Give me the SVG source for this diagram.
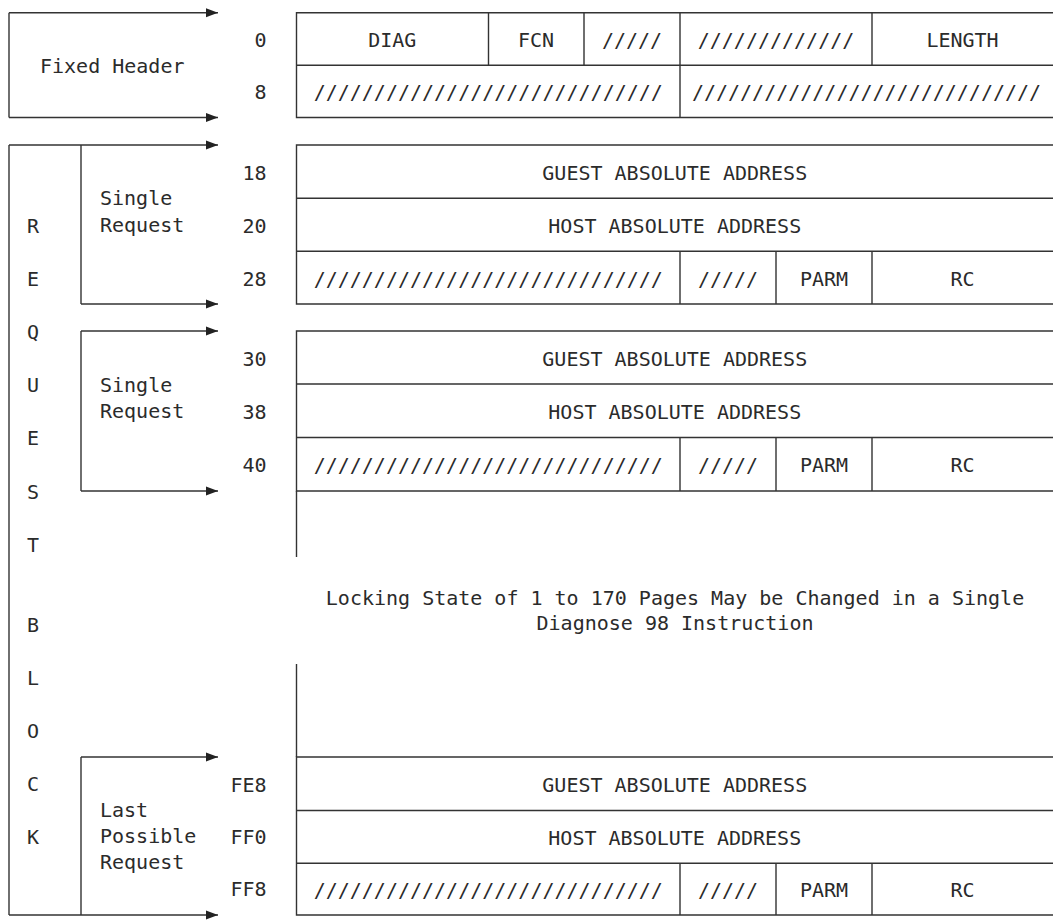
<svg xmlns="http://www.w3.org/2000/svg" width="1053" height="920" viewBox="0 0 1053 920">
<style>
text{font-family:"DejaVu Sans Mono","Liberation Mono",monospace;font-size:20px;fill:#2b2b2b}
.c{text-anchor:middle}
.r{text-anchor:end}
.ln{stroke:#333;stroke-width:1.4;fill:none}
.ar{stroke:#333;stroke-width:1.4;fill:none;marker-end:url(#ah)}
</style>
<defs>
<marker id="ah" markerUnits="userSpaceOnUse" markerWidth="12" markerHeight="10" refX="12" refY="5" orient="auto">
<path d="M0,0.5 L12,5 L0,9.5 z" fill="#222"/>
</marker>
</defs>
<rect width="1053" height="920" fill="#fff"/>

<g id="connectors">
<line class="ar" x1="9" y1="12.7" x2="218" y2="12.7"/>
<line class="ln" x1="9" y1="12.7" x2="9" y2="117.5"/>
<line class="ar" x1="9" y1="117.5" x2="218" y2="117.5"/>
<line class="ar" x1="9" y1="145" x2="218" y2="145"/>
<line class="ln" x1="9" y1="145" x2="9" y2="915"/>
<line class="ar" x1="9" y1="915" x2="218" y2="915"/>
<line class="ln" x1="81" y1="145" x2="81" y2="304"/>
<line class="ar" x1="81" y1="304" x2="218" y2="304"/>
<line class="ar" x1="81" y1="331" x2="218" y2="331"/>
<line class="ln" x1="81" y1="331" x2="81" y2="491"/>
<line class="ar" x1="81" y1="491" x2="218" y2="491"/>
<line class="ar" x1="81" y1="757" x2="218" y2="757"/>
<line class="ln" x1="81" y1="757" x2="81" y2="915"/>
</g>

<g id="labels">
<text x="40" y="73">Fixed Header</text>
<text x="100" y="205">Single</text>
<text x="100" y="231.5">Request</text>
<text x="100" y="391.5">Single</text>
<text x="100" y="418">Request</text>
<text x="100" y="816.5">Last</text>
<text x="100" y="843">Possible</text>
<text x="100" y="869">Request</text>
<g class="c">
<text class="c" x="33" y="233">R</text>
<text class="c" x="33" y="286">E</text>
<text class="c" x="33" y="339">Q</text>
<text class="c" x="33" y="392">U</text>
<text class="c" x="33" y="445">E</text>
<text class="c" x="33" y="498.5">S</text>
<text class="c" x="33" y="551.5">T</text>
<text class="c" x="33" y="632">B</text>
<text class="c" x="33" y="685">L</text>
<text class="c" x="33" y="738">O</text>
<text class="c" x="33" y="791">C</text>
<text class="c" x="33" y="843.5">K</text>
</g>
<text class="r" x="266.5" y="46.5">0</text>
<text class="r" x="266.5" y="99.3">8</text>
<text class="r" x="266.5" y="180">18</text>
<text class="r" x="266.5" y="233">20</text>
<text class="r" x="266.5" y="286">28</text>
<text class="r" x="266.5" y="366">30</text>
<text class="r" x="266.5" y="419">38</text>
<text class="r" x="266.5" y="472">40</text>
<text class="r" x="266.5" y="791.5">FE8</text>
<text class="r" x="266.5" y="843.5">FF0</text>
<text class="r" x="266.5" y="896">FF8</text>
</g>

<g id="fixed-header">
<path class="ln" d="M1053,12.7 H296.5 V117.5 H1053 M296.5,65.3 H1053 M488.5,12.7 V65.3 M584,12.7 V65.3 M680,12.7 V117.5 M872,12.7 V65.3"/>
<text class="c" x="392.25" y="46.5">DIAG</text>
<text class="c" x="536" y="46.5">FCN</text>
<text class="c" x="632" y="46.5">/////</text>
<text class="c" x="776" y="46.5">/////////////</text>
<text class="c" x="962.5" y="46.5">LENGTH</text>
<text class="c" x="488.25" y="99">/////////////////////////////</text>
<text class="c" x="866.5" y="99">/////////////////////////////</text>
</g>

<g id="request-1">
<path class="ln" d="M1053,145 H296.5 V304 H1053 M296.5,198.3 H1053 M296.5,251.3 H1053 M680,251.3 V304 M776,251.3 V304 M872,251.3 V304"/>
<text class="c" x="674.75" y="179.5">GUEST ABSOLUTE ADDRESS</text>
<text class="c" x="674.75" y="232.5">HOST ABSOLUTE ADDRESS</text>
<text class="c" x="488.25" y="285.5">/////////////////////////////</text>
<text class="c" x="728" y="285.5">/////</text>
<text class="c" x="824" y="285.5">PARM</text>
<text class="c" x="962.5" y="285.5">RC</text>
</g>

<g id="request-2">
<path class="ln" d="M1053,331 H296.5 V491 H1053 M296.5,384 H1053 M296.5,437.5 H1053 M680,437.5 V491 M776,437.5 V491 M872,437.5 V491"/>
<text class="c" x="674.75" y="365.5">GUEST ABSOLUTE ADDRESS</text>
<text class="c" x="674.75" y="418.5">HOST ABSOLUTE ADDRESS</text>
<text class="c" x="488.25" y="472">/////////////////////////////</text>
<text class="c" x="728" y="472">/////</text>
<text class="c" x="824" y="472">PARM</text>
<text class="c" x="962.5" y="472">RC</text>
</g>

<g id="gap">
<path class="ln" d="M296.5,491 V557 M296.5,664 V757"/>
<text class="c" x="675" y="605">Locking State of 1 to 170 Pages May be Changed in a Single</text>
<text class="c" x="675" y="630">Diagnose 98 Instruction</text>
</g>

<g id="last-request">
<path class="ln" d="M1053,757 H296.5 V915 H1053 M296.5,810.5 H1053 M296.5,863.3 H1053 M680,863.3 V915 M776,863.3 V915 M872,863.3 V915"/>
<text class="c" x="674.75" y="791.5">GUEST ABSOLUTE ADDRESS</text>
<text class="c" x="674.75" y="844.5">HOST ABSOLUTE ADDRESS</text>
<text class="c" x="488.25" y="897">/////////////////////////////</text>
<text class="c" x="728" y="897">/////</text>
<text class="c" x="824" y="897">PARM</text>
<text class="c" x="962.5" y="897">RC</text>
</g>
</svg>
